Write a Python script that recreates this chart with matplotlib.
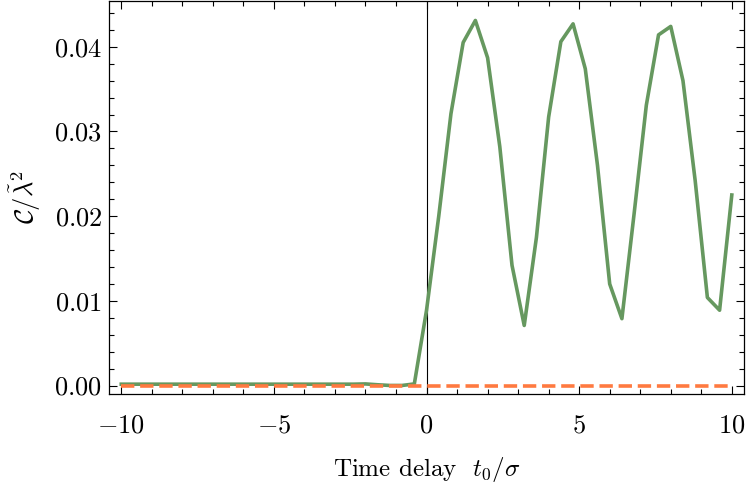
import numpy as np
import matplotlib
matplotlib.use("Agg")
import matplotlib.pyplot as plt
from matplotlib.ticker import MultipleLocator

plt.rcParams['font.family'] = 'serif'
plt.rcParams['font.serif'] = ['cmr10', 'DejaVu Serif']
plt.rcParams['mathtext.fontset'] = 'cm'
plt.rcParams['axes.formatter.use_mathtext'] = True

# time delays t0/sigma, step 0.4
t = [round(-10 + 0.4 * i, 1) for i in range(51)]

# green series C / lambda~^2
neg_part = [0.00017] * 20 + [0.0002, 0.0001, 0.00002, 0.00002, 0.0002]
pos_part = [0.0089, 0.0200, 0.0321, 0.0405, 0.0431, 0.0387, 0.0282, 0.0142,
            0.0071, 0.0175, 0.0317, 0.0406, 0.0427, 0.0374, 0.0260, 0.0120,
            0.0079, 0.0203, 0.0331, 0.0414, 0.0424, 0.0360, 0.0242, 0.0104,
            0.0089, 0.0225]
green_vals = neg_part + pos_part

# orange dashed baseline
orange_vals = [0.0] * 51

fig = plt.figure(figsize=(7.47, 4.92), dpi=100)
ax = fig.add_axes([0.146, 0.199, 0.850, 0.799])

ax.axvline(0, color='black', lw=0.8, zorder=1)
ax.plot(t, green_vals, color='#66985f', lw=2.6, zorder=3)
ax.plot(t, orange_vals, color='#ff7a40', lw=2.6, ls='--', zorder=4)

ax.set_xlim(-10.4, 10.4)
ax.set_ylim(-0.0010, 0.0454)

ax.xaxis.set_major_locator(MultipleLocator(5))
ax.xaxis.set_minor_locator(MultipleLocator(1))
ax.yaxis.set_major_locator(MultipleLocator(0.01))
ax.yaxis.set_minor_locator(MultipleLocator(0.002))
ax.yaxis.set_major_formatter(matplotlib.ticker.FuncFormatter(lambda v, p: r'$%.2f$' % v))

ax.tick_params(which='both', direction='in', top=True, right=True, width=0.8)
ax.tick_params(which='major', length=5.5, labelsize=19)
ax.tick_params(which='minor', length=3.3)
ax.tick_params(axis='x', which='major', pad=14)
ax.tick_params(axis='y', which='major', pad=5)
for s in ax.spines.values():
    s.set_linewidth(0.9)

ax.set_xlabel(r'Time delay  $t_0/\sigma$', fontsize=18, labelpad=13)
ax.set_ylabel(r'$\mathcal{C}/\tilde{\lambda}^2$', fontsize=19, labelpad=8)

fig.savefig('out.png', dpi=100)
